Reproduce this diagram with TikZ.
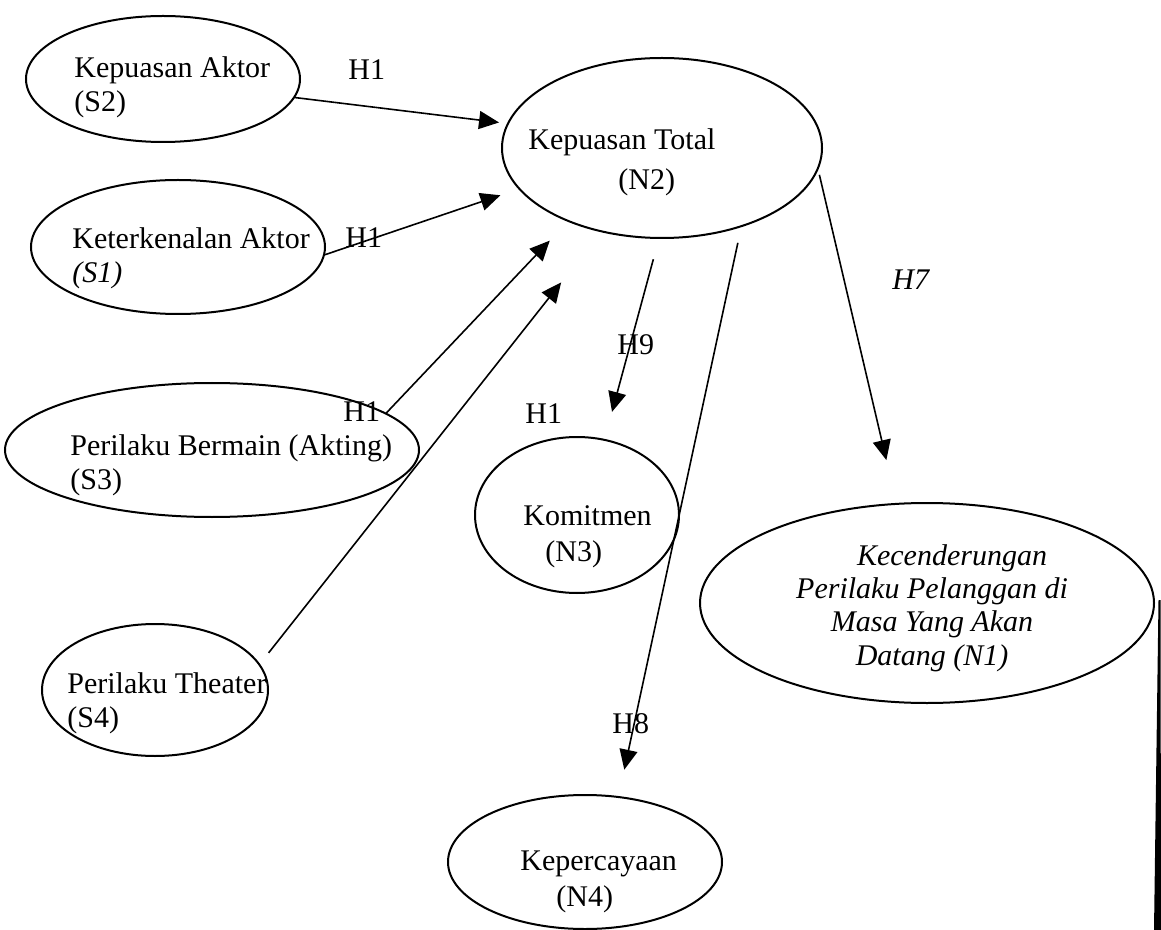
\documentclass[tikz,border=0pt]{standalone}
\usepackage{fontspec}
\setmainfont{Liberation Serif}
\usetikzlibrary{arrows.meta,shapes.geometric}
\tikzset{
  oval/.style={draw,ellipse,line width=1pt,inner sep=0pt},
  lbl/.style={align=left,inner sep=0pt,anchor=west,font=\fontsize{15}{17}\selectfont},
  hyp/.style={inner sep=0pt,anchor=base west,font=\fontsize{15}{17}\selectfont},
  ar/.style={-{Triangle[length=10pt,width=9pt]},line width=0.8pt},
}
\begin{document}
\begin{tikzpicture}[x=0.5pt,y=-0.5pt]
\useasboundingbox (0,0) rectangle (1161,930);
% constructs
\node[oval,minimum width=137pt,minimum height=63pt] (s2) at (163,79) {};
\node[oval,minimum width=147pt,minimum height=67pt] (s1) at (178,247) {};
\node[oval,minimum width=207pt,minimum height=67pt] (s3) at (212,450) {};
\node[oval,minimum width=113pt,minimum height=66pt] (s4) at (155,690) {};
\node[oval,minimum width=160pt,minimum height=90pt] (n2) at (662,148) {};
\node[oval,minimum width=102pt,minimum height=78pt] (n3) at (577,515) {};
\node[oval,minimum width=227pt,minimum height=100pt] (n1) at (927,603) {};
\node[oval,minimum width=137pt,minimum height=67pt] (n4) at (585,862) {};
% texts
\node[lbl] (s2t) at (74,87) {Kepuasan Aktor\\(S2)};
\node[lbl] (s1t) at (72,258) {Keterkenalan Aktor\\\textit{(S1)}};
\node[lbl] (s3t) at (70,465) {Perilaku Bermain (Akting)\\(S3)};
\node[lbl] (s4t) at (67,703) {Perilaku Theater\\(S4)};
\node[lbl] (n2t) at (528,162) {Kepuasan Total\\[3pt]\hspace*{45pt}(N2)};
\node[lbl] (n3t) at (523,537) {Komitmen\\[1pt]\hspace*{11pt}(N3)};
\node[lbl] (n4t) at (520,882) {Kepercayaan\\[1pt]\hspace*{18pt}(N4)};
\node[lbl,align=center,anchor=center,font=\fontsize{15}{16.7}\selectfont\itshape] (n1t) at (932,608)
  {\hspace*{20pt}Kecenderungan\\Perilaku Pelanggan di\\Masa Yang Akan\\Datang (N1)};
% hypotheses
\node[hyp] (h1a) at (348,80) {H1};
\node[hyp] (h1b) at (345,248) {H1};
\node[hyp] (h1c) at (343,422) {H1};
\node[hyp] (h1d) at (525,423) {H1};
\node[hyp] (h9) at (617,355) {H9};
\node[hyp,font=\fontsize{15}{17}\selectfont\itshape] (h7) at (892,290) {H7};
\node[hyp] (h8) at (612,733) {H8};
% paths
\draw[ar,shorten >=4pt] (s2.-8) -- (n2.171);
\draw[ar,shorten >=9.5pt] (s1.-3) -- (n2.196);
\draw[ar,shorten >=13pt] (s3.12) -- (n2.218);
\draw[ar,shorten <=7pt,shorten >=32pt] (s4.14) -- (n2.234);
\draw[ar,shorten <=10.5pt,shorten >=14pt] (n2.268) -- (n3.70);
\draw[ar,shorten <=8pt,shorten >=13.5pt] (n2.-45) -- (n4.63);
\draw[ar,shorten <=2.5pt,shorten >=22pt] (n2.-8.5) -- (n1.107);
% edge of the scanned page
\fill (1158.5,600) -- (1160.5,600) -- (1161,930) -- (1154,930) -- cycle;
\end{tikzpicture}
\end{document}
